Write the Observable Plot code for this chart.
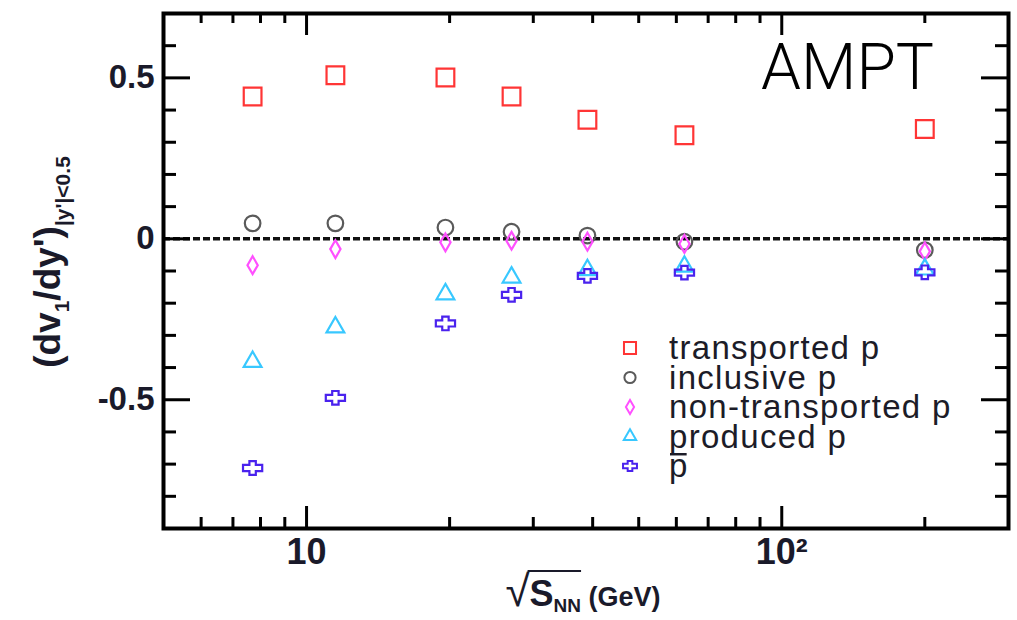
<!DOCTYPE html>
<html><head><meta charset="utf-8">
<script src="https://cdn.jsdelivr.net/npm/d3@7"></script>
<script src="https://cdn.jsdelivr.net/npm/@observablehq/plot@0.6"></script>
<style>body{margin:0;background:#fff} #chart{width:1017px;height:620px}</style>
</head><body><div id="chart"></div>
<script>
// ---- data ----
const energies = [7.7, 11.5, 19.6, 27, 39, 62.4, 200];
const transported = [0.442, 0.508, 0.501, 0.442, 0.370, 0.322, 0.341];
const inclusive = [0.048, 0.048, 0.035, 0.022, 0.010, -0.009, -0.035];
const nonTransported = [-0.082, -0.032, -0.011, -0.006, -0.009, -0.016, -0.039];
const produced = [-0.382, -0.275, -0.172, -0.120, -0.097, -0.086, -0.095];
const antiproton = [-0.712, -0.494, -0.263, -0.174, -0.115, -0.105, -0.104];

const seriesNames = ["transported p", "inclusive p", "non-transported p", "produced p", "p"];
const seriesColors = ["#ff3535", "#5a5a5a", "#ff50ff", "#38c8ff", "#4a22ee"];
const seriesValues = [transported, inclusive, nonTransported, produced, antiproton];

const xMajorTicks = [10, 100];
const xMinorTicks = [6, 7, 8, 9, 20, 30, 40, 50, 60, 70, 80, 90, 200];
const yMajorTicks = [-0.5, 0, 0.5];
const yMinorTicks = [-0.8, -0.7, -0.6, -0.4, -0.3, -0.2, -0.1, 0.1, 0.2, 0.3, 0.4, 0.6];
const xTickLabels = ["10", "10²"];
const xDomain = [5, 300];
const yDomain = [-0.9, 0.7];

// ---- symbols ----
const openCross = {
  draw(ctx, size) {
    const r = Math.sqrt(size / Math.PI);
    const a = r * 1.2, b = r * 0.85, t = r * 0.38, u = r * 0.4;
    ctx.moveTo(-a, -t); ctx.lineTo(-u, -t); ctx.lineTo(-u, -b); ctx.lineTo(u, -b);
    ctx.lineTo(u, -t); ctx.lineTo(a, -t); ctx.lineTo(a, t); ctx.lineTo(u, t);
    ctx.lineTo(u, b); ctx.lineTo(-u, b); ctx.lineTo(-u, t); ctx.lineTo(-a, t);
    ctx.closePath();
  }
};
const seriesSymbols = ["square", "circle", "diamond", "triangle", openCross];
const d3Symbols = [d3.symbolSquare, d3.symbolCircle, d3.symbolDiamond, d3.symbolTriangle, openCross];
const seriesR = [10, 7.8, 5.4, 6.6, 8];
const legendR = [6.8, 5.6, 4.3, 4.6, 5.8];

const rows = [];
seriesNames.forEach((name, i) => energies.forEach((e, j) => rows.push({series: i, x: e, y: seriesValues[i][j]})));

const W = 1017, H = 620;
const mL = 163, mR = 9, mT = 13, mB = 92;
const fw = W - mL - mR, fh = H - mT - mB;

const dotMarks = seriesNames.map((n, i) => Plot.dot(rows.filter(d => d.series === i), {
  x: "x", y: "y", symbol: seriesSymbols[i], r: seriesR[i], stroke: seriesColors[i], strokeWidth: 2.2, fill: "none"
}));

const chart = Plot.plot({
  width: W, height: H,
  marginLeft: mL, marginRight: mR, marginTop: mT, marginBottom: mB,
  style: {fontFamily: "'Liberation Sans', Arial, sans-serif", background: "#fff"},
  x: {type: "log", domain: xDomain},
  y: {domain: yDomain},
  marks: [
    Plot.ruleY([0], {stroke: "#111", strokeWidth: 3.5, strokeDasharray: "7,3"}),
    // inward ticks on all four sides
    Plot.ruleX(xMinorTicks, {x: d => d, insetTop: fh - 11, stroke: "#000", strokeWidth: 3}),
    Plot.ruleX(xMajorTicks, {x: d => d, insetTop: fh - 22, stroke: "#000", strokeWidth: 3}),
    Plot.ruleX(xMinorTicks, {x: d => d, insetBottom: fh - 10, stroke: "#000", strokeWidth: 3}),
    Plot.ruleX(xMajorTicks, {x: d => d, insetBottom: fh - 22, stroke: "#000", strokeWidth: 3}),
    Plot.ruleY(yMinorTicks, {y: d => d, insetRight: fw - 13, stroke: "#000", strokeWidth: 3}),
    Plot.ruleY(yMajorTicks, {y: d => d, insetRight: fw - 27, stroke: "#000", strokeWidth: 3}),
    Plot.ruleY(yMinorTicks, {y: d => d, insetLeft: fw - 13, stroke: "#000", strokeWidth: 3}),
    Plot.ruleY(yMajorTicks, {y: d => d, insetLeft: fw - 27, stroke: "#000", strokeWidth: 3}),
    ...dotMarks,
    Plot.axisX(xMajorTicks, {tickSize: 0, tickPadding: 10, tickFormat: d => xTickLabels[xMajorTicks.indexOf(d)],
      fontSize: 36, fontWeight: "bold", fill: "#1a1a2a", label: null}),
    Plot.axisY(yMajorTicks, {tickSize: 0, tickPadding: 9, tickFormat: d => String(d),
      fontSize: 33, fontWeight: "bold", fill: "#1a1a2a", label: null}),
    Plot.frame({stroke: "#000", strokeWidth: 4})
  ]
});
document.getElementById("chart").appendChild(chart);

const svg = d3.select(chart);
// AMPT tag
svg.append("text").attr("x", 934).attr("y", 89).attr("text-anchor", "end")
  .attr("font-family", "Roboto, 'Open Sans', sans-serif").attr("font-weight", 300)
  .attr("font-size", 64).attr("fill", "#000").text("AMPT");

// legend
const lg = svg.append("g");
const rowY = [348, 377.5, 407, 436.5, 466];
seriesNames.forEach((n, i) => {
  lg.append("path").attr("transform", `translate(630,${rowY[i]})`)
    .attr("d", d3.symbol(d3Symbols[i], Math.PI * legendR[i] * legendR[i])())
    .attr("fill", "none").attr("stroke", seriesColors[i]).attr("stroke-width", 2);
  const t = lg.append("text").attr("x", 669).attr("y", rowY[i]).attr("dy", "0.34em")
    .attr("text-anchor", "start").attr("letter-spacing", 1.3)
    .attr("font-family", "'Liberation Sans', Arial, sans-serif").attr("font-size", 33)
    .attr("fill", "#1c1c28").text(n);
  if (i === 4) {
    const ex = t.node().getExtentOfChar(0);
    lg.append("line").attr("x1", ex.x + 1).attr("x2", ex.x + ex.width - 2)
      .attr("y1", ex.y + 7).attr("y2", ex.y + 7).attr("stroke", "#1c1c28").attr("stroke-width", 2.5);
  }
});

// y label
const yl = svg.append("text").attr("transform", "translate(60,262) rotate(-90)")
  .attr("text-anchor", "middle").attr("font-family", "'Liberation Sans', Arial, sans-serif")
  .attr("font-weight", "bold").attr("font-size", 37).attr("fill", "#1a1a2a");
yl.append("tspan").text("(dv");
yl.append("tspan").attr("font-size", 21).attr("dy", 9).text("1");
yl.append("tspan").attr("dy", -9).text("/dy')");
yl.append("tspan").attr("font-size", 21).attr("dy", 10).text("|y'|<0.5");

// x label
const xl = svg.append("text").attr("x", 583).attr("y", 606).attr("text-anchor", "middle")
  .attr("font-family", "'Liberation Sans', Arial, sans-serif").attr("fill", "#1a1a2a");
xl.append("tspan").attr("font-size", 44).attr("font-weight", 300).text("√");
xl.append("tspan").attr("font-size", 36).attr("font-weight", "bold").text("S");
xl.append("tspan").attr("font-size", 19).attr("font-weight", "bold").attr("dy", 6).text("NN");
xl.append("tspan").attr("font-size", 27).attr("font-weight", "bold").attr("dy", -6).text(" (GeV)");
const xlNode = xl.node();
const e0 = xlNode.getExtentOfChar(0), e3 = xlNode.getExtentOfChar(3);
svg.append("line").attr("x1", e0.x + e0.width - 2).attr("x2", e3.x + e3.width)
  .attr("y1", e0.y + 5).attr("y2", e0.y + 5).attr("stroke", "#1a1a2a").attr("stroke-width", 2);
</script>
</body></html>
